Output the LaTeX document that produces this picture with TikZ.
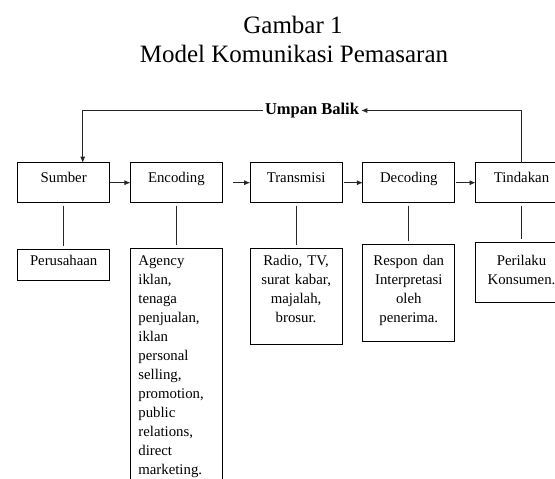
\documentclass[tikz,border=0pt]{standalone}
\usepackage{fontspec}
\setmainfont{Liberation Serif}
\usetikzlibrary{matrix,arrows.meta}
\newcommand\boxfont{\fontsize{14.8}{19}\selectfont}
\newcommand\titlefont{\fontsize{25}{29}\selectfont}
\def\Flow{
    \matrix (flow)
    [matrix of nodes,
    ampersand replacement=\&,
    anchor=north west,
    inner sep=0pt,
    column sep={20pt},
    row sep={39pt},
    nodes={outer sep=0pt, draw, rectangle, inner xsep=4pt, inner ysep=0pt, font=\boxfont},
    row 1/.style={nodes={minimum width=92pt, text height=20pt, text depth=20pt}},
    row 2/.style={nodes={text width=84pt, align=center}} ]
    at (17pt,-162pt)
    {
     Sumber \& Encoding \&[7pt] Transmisi \& Decoding \& Tindakan \\
     |[text height=16pt, text depth=15pt]| Perusahaan \&
     |[text height=17pt, text depth=240pt, text width=76pt, inner xsep=8pt, align=left]| {Agency\\iklan,\\tenaga\\penjualan,\\iklan\\personal\\selling,\\promotion,\\public\\relations,\\direct\\marketing.} \&
     |[text height=17pt, text depth=79pt]| {Radio, TV,\\surat kabar,\\majalah,\\brosur.} \&
     |[text height=21pt, text depth=76pt]| {Respon dan\\Interpretasi\\oleh\\penerima.} \&
     |[text height=23pt, text depth=37pt]| {Perilaku\\Konsumen.} \\
    };
}

\begin{document}
\begin{tikzpicture}[line width=0.7pt, draw=black!85,
    flowline/.style={-{Latex[length=6pt,width=5pt]}},
    stem/.style={shorten <=3pt, shorten >=3pt}]
    \useasboundingbox (0,0) rectangle (555pt,-479pt);
    \node (gambar) [anchor=base, font=\titlefont] at (293pt,-34pt) {Gambar 1};
    \node (model) [anchor=base, font=\titlefont] at (294pt,-63pt) {Model Komunikasi Pemasaran};
    \Flow
    \node (balik) [inner sep=2pt, font=\fontsize{16.5}{20}\selectfont\bfseries] at (312pt,-110.5pt) {Umpan Balik};
    \draw[flowline] (flow-1-1.east) -- (flow-1-2.west);
    \draw[flowline] ([xshift=11pt]flow-1-2.east) -- (flow-1-3.west);
    \draw[flowline] ([xshift=2pt]flow-1-3.east) -- (flow-1-4.west);
    \draw[flowline] ([xshift=1pt]flow-1-4.east) -- (flow-1-5.west);
    \draw[flowline] (flow-1-5.north) |- (balik.east);
    \draw[flowline] (balik.west) -| ([xshift=19pt]flow-1-1.north);
    \foreach \col in {1,...,5}
        \draw[stem] (flow-1-\col.south) -- (flow-2-\col.north);
\end{tikzpicture}
\end{document}
